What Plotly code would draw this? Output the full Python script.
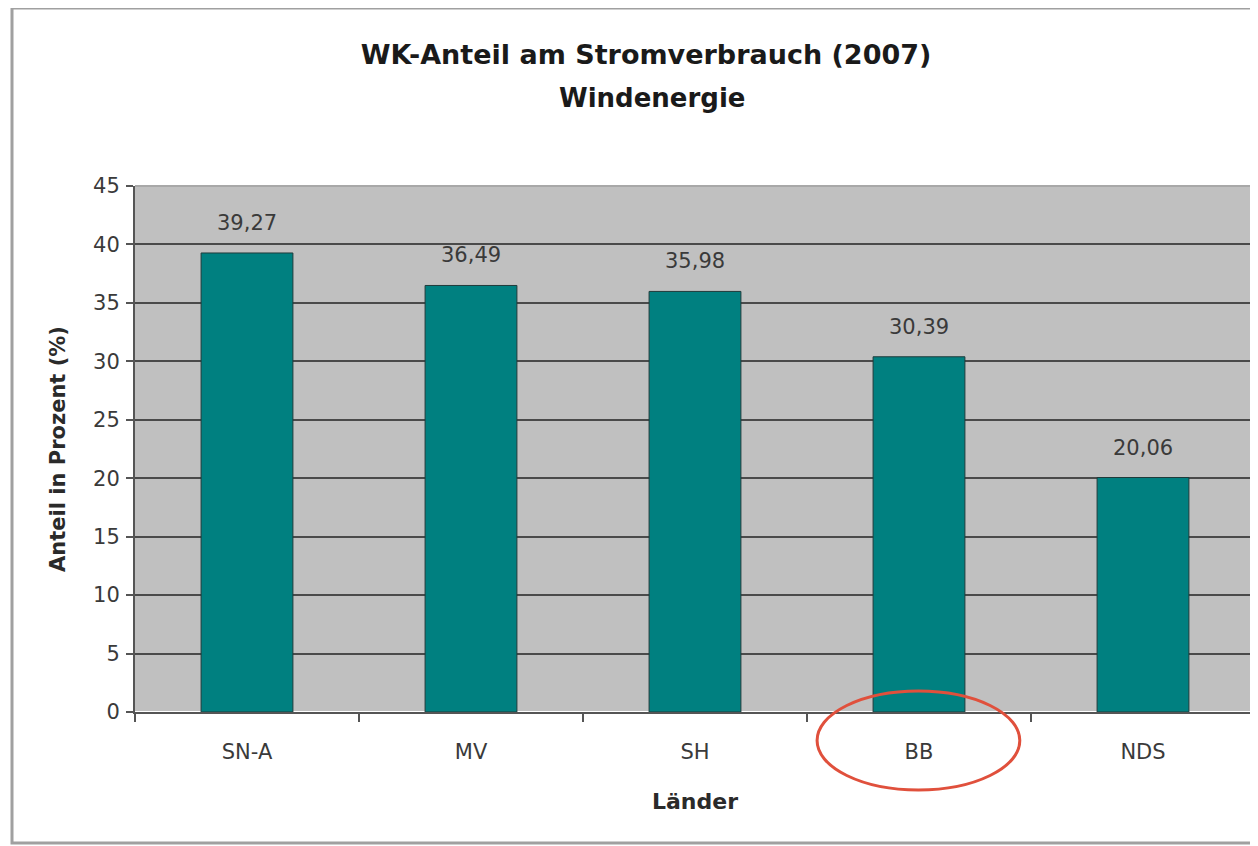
import plotly.graph_objects as go

categories = ["SN-A", "MV", "SH", "BB", "NDS"]
values = [39.27, 36.49, 35.98, 30.39, 20.06]
labels = ["39,27", "36,49", "35,98", "30,39", "20,06"]
y_ticks = [0, 5, 10, 15, 20, 25, 30, 35, 40, 45]
highlight = "BB"

FONT = "DejaVu Sans, Liberation Sans, Arial, sans-serif"

fig = go.Figure(go.Bar(
    x=categories, y=values,
    marker=dict(color="#008080", line=dict(color="#1f3b3b", width=1)),
    width=0.41,
))

# page body has an 8px margin, so figure coords = screen coords - 8
OFF = 8
W, H = 1250, 838
L, R, T, B = 127, 3, 178, 134
pw, ph = W - L - R, H - T - B

def px(xs):
    return (xs - OFF - L) / pw

def py(ys):
    return (H - B - (ys - OFF)) / ph

hi = categories.index(highlight)

annotations = [
    dict(x=c, y=v, text=t, xref="x", yref="y", showarrow=False,
         yanchor="middle", yshift=30,
         font=dict(family=FONT, size=21, color="#3a3a3a"))
    for c, v, t in zip(categories, values, labels)
]
annotations.append(dict(
    x=px(652), y=py(98), xref="paper", yref="paper", text="Windenergie",
    showarrow=False, xanchor="center", yanchor="middle",
    font=dict(family=FONT, size=26, color="#1a1a1a", weight="bold")))

fig.update_layout(
    width=W, height=H, margin=dict(l=L, r=R, t=T, b=B),
    paper_bgcolor="white", plot_bgcolor="#c0c0c0",
    showlegend=False,
    title=dict(text="WK-Anteil am Stromverbrauch (2007)",
               x=px(646), xref="paper", xanchor="center",
               y=(H - (55 - OFF)) / H, yanchor="middle",
               font=dict(family=FONT, size=27, color="#1a1a1a", weight="bold")),
    xaxis=dict(
        title=dict(text="Länder", font=dict(family=FONT, size=22, color="#2a2a2a", weight="bold"), standoff=30),
        tickfont=dict(family=FONT, size=21, color="#3a3a3a"),
        showline=True, linecolor="#555555", linewidth=2,
        ticks="outside", tickson="boundaries", ticklen=8, tickcolor="#555555", tickwidth=2,
        ticklabelstandoff=20,
        showgrid=False, range=[-0.5, 4.5],
    ),
    yaxis=dict(
        title=dict(text="Anteil in Prozent (%)", font=dict(family=FONT, size=21, color="#2a2a2a", weight="bold"), standoff=22),
        tickfont=dict(family=FONT, size=21, color="#3a3a3a"),
        range=[0, 45], tickvals=y_ticks,
        showline=True, linecolor="#555555", linewidth=2,
        ticks="outside", ticklen=7, tickcolor="#555555", tickwidth=2,
        ticklabelstandoff=2,
        showgrid=True, gridcolor="#4a4a4a", gridwidth=2,
    ),
    annotations=annotations,
    shapes=[
        dict(type="rect", xref="paper", yref="paper", x0=px(12), x1=px(1275), y0=py(843), y1=py(8),
             line=dict(color="#a0a0a0", width=3), layer="below"),
        dict(type="line", xref="paper", yref="paper", x0=0, x1=1, y0=1, y1=1,
             line=dict(color="#a8a8a8", width=2)),
        dict(type="line", xref="paper", yref="paper", x0=1, x1=1, y0=0, y1=1,
             line=dict(color="#a8a8a8", width=2)),
        dict(type="circle", xref="x", yref="paper", x0=hi - 0.455, x1=hi + 0.45,
             y0=py(790), y1=py(691), line=dict(color="#e0503c", width=3)),
    ],
)

fig.write_html("out.html")
